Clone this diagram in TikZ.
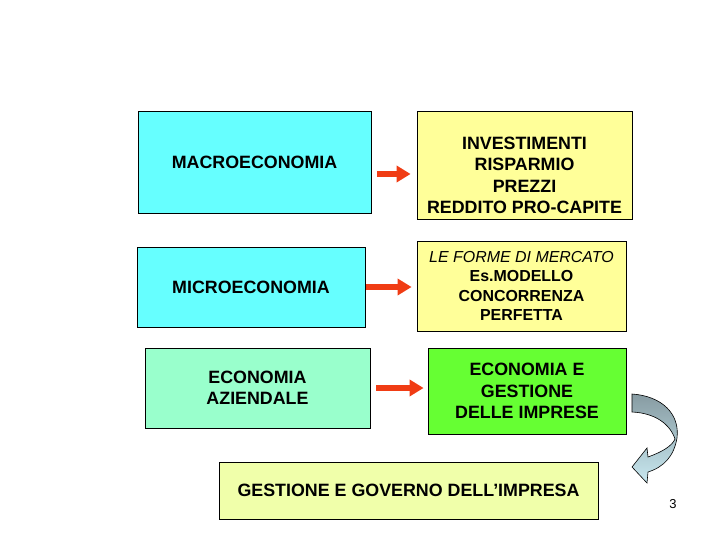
\documentclass[tikz,border=0pt]{standalone}
\usepackage{fontspec}
\setmainfont{Liberation Sans}
\usetikzlibrary{arrows.meta}

\definecolor{boxcyan}{RGB}{102,255,255}
\definecolor{boxyellow}{RGB}{255,255,153}
\definecolor{boxmint}{RGB}{153,255,204}
\definecolor{boxgreen}{RGB}{102,255,51}
\definecolor{boxpale}{RGB}{240,255,170}
\definecolor{arrowred}{RGB}{240,60,20}
\definecolor{bendgray}{RGB}{135,155,162}
\definecolor{bendblue}{RGB}{200,232,240}

\tikzset{
  box/.style={draw=black, line width=0.8bp, rectangle, align=center, inner sep=0pt,
    font=\bfseries\fontsize{17.9}{21.6}\selectfont},
  redarrow/.style={arrowred, line width=6bp, -{Triangle[length=14bp,width=16bp]}},
}

\begin{document}
\begin{tikzpicture}[x=1bp, y=-1bp]
            \useasboundingbox (0,0) rectangle (720,540);
            % left column
            \node[box, fill=boxcyan, minimum width=233bp, minimum height=102bp] (macro) at (254.5,162) {MACROECONOMIA};
            \node[box, fill=boxcyan, minimum width=228bp, minimum height=80bp] (micro) at (251,287) {MICROECONOMIA};
            \node[box, fill=boxmint, minimum width=225bp, minimum height=80bp] (azienda) at (257.5,388) {ECONOMIA\\AZIENDALE};
            % right column
            \node[box, fill=boxyellow, minimum width=215bp, minimum height=108bp,
                label={[yshift=-10.5bp, align=center, font=\bfseries\fontsize{17.9}{21.6}\selectfont]center:INVESTIMENTI\\RISPARMIO\\PREZZI\\REDDITO PRO-CAPITE}] (invest) at (524.5,165) {};
            \node[box, fill=boxyellow, minimum width=209bp, minimum height=90bp,
                font=\bfseries\fontsize{16}{19.3}\selectfont] (mercato) at (521.5,286)
                {\mdseries\itshape LE FORME DI MERCATO\\Es.MODELLO\\CONCORRENZA\\PERFETTA};
            \node[box, fill=boxgreen, minimum width=198bp, minimum height=86bp] (imprese) at (527,391) {ECONOMIA E\\GESTIONE\\DELLE IMPRESE};
            % bottom
            \node[box, fill=boxpale, minimum width=379bp, minimum height=57bp] (governo) at (408.5,490.5) {GESTIONE E GOVERNO DELL'IMPRESA};
            % arrows
            \draw[redarrow, shorten <=6bp, shorten >=6bp] (macro.east |- 0,174) -- (invest.west |- 0,174);
            \draw[redarrow, shorten <=1bp, shorten >=5bp] (micro.east |- 0,287) -- (mercato.west |- 0,287);
            \draw[redarrow, shorten <=6bp, shorten >=4bp] (azienda.east |- 0,388) -- (imprese.west |- 0,388);
            % bent arrow
            \shade[top color=bendgray, bottom color=bendblue, draw=black, line width=0.6bp]
                (632,394) .. controls (662,396) and (680,414) .. (677,438)
                .. controls (674,456) and (664,467) .. (648,472) -- (647,483) -- (632,467)
                -- (647,448) -- (648,457) .. controls (662,452) and (672,446) .. (675,439)
                .. controls (670,424) and (655,413) .. (632,412) -- cycle;
            \node[font=\fontsize{13}{15}\selectfont] (pagenum) at (673,504) {3};
        \end{tikzpicture}
\end{document}
